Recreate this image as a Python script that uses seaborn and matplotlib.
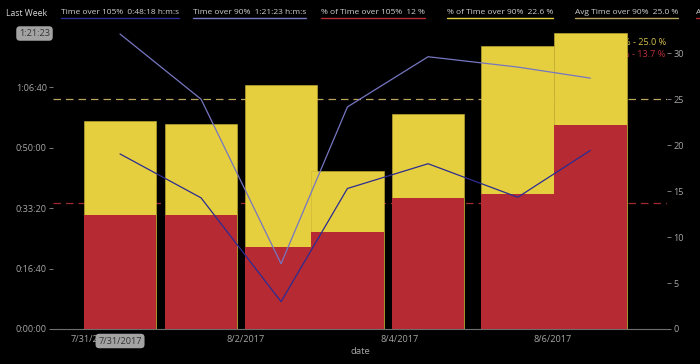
import matplotlib
matplotlib.use("Agg")
import matplotlib.pyplot as plt
import matplotlib.dates as mdates
from matplotlib.lines import Line2D
from matplotlib.ticker import FuncFormatter
import pandas as pd
import seaborn as sns

# ---------------- data ----------------
dates = ["2017-07-31 08:33", "2017-08-01 09:56", "2017-08-02 11:00", "2017-08-03 07:47",
         "2017-08-04 09:03", "2017-08-05 13:09", "2017-08-06 11:54"]
time_over_105 = [2898, 2171, 453, 2326, 2736, 2181, 2957]      # seconds
time_over_90 = [4883, 3804, 1080, 3676, 4507, 4336, 4153]      # seconds
pct_over_105 = [12.4, 12.4, 8.9, 10.5, 14.2, 14.7, 22.2]       # %
pct_over_90 = [22.6, 22.3, 26.5, 17.2, 23.4, 30.8, 32.2]       # %
avg_pct_over_90 = 25.0
avg_pct_over_105 = 13.7
x_tick_dates = ["2017-07-31", "2017-08-02", "2017-08-04", "2017-08-06"]
x_tick_labels = ["7/31/2017", "8/2/2017", "8/4/2017", "8/6/2017"]
left_ticks = [0, 1000, 2000, 3000, 4000]
right_ticks = [0, 5, 10, 15, 20, 25, 30]
legend_title = "Last Week"
legend_labels = ["Time over 105%  0:48:18 h:m:s", "Time over 90%  1:21:23 h:m:s",
                 "% of Time over 105%  12 %", "% of Time over 90%  22.6 %",
                 "Avg Time over 90%  25.0 %", "Avg Time over 105%  13.7 %"]
ref_labels = ["% - 25.0 %", "% - 13.7 %"]
hover_time = "1:21:23"
hover_date = "7/31/2017"

# ---------------- style ----------------
sns.set_style("dark", {"axes.facecolor": "black", "figure.facecolor": "black"})
plt.rcParams["font.family"] = ["Open Sans", "DejaVu Sans"]

YELLOW = "#E5CF3F"
RED = "#B52A33"
DARK = "#2C2C92"
LIGHT = "#7676C2"
TAN = "#B9A45C"
RED_D = "#A0292F"
GRAY = "#A6A6A6"

W, H = 700, 364
df = pd.DataFrame({"date": pd.to_datetime(dates),
                   "t105": time_over_105, "t90": time_over_90,
                   "p105": pct_over_105, "p90": pct_over_90})

fig = plt.figure(figsize=(W / 100, H / 100), dpi=100, facecolor="black")
ax = fig.add_axes([53 / W, 1 - 329 / H, 614 / W, 296 / H])
ax.set_facecolor("black")
ax2 = ax.twinx()
ax2.patch.set_visible(False)

# bars (percent, right scale)
ax.bar(df["date"], df["p90"], width=0.948, color=YELLOW, edgecolor="#C9B336",
       linewidth=0.4, zorder=2)
ax.bar(df["date"], df["p105"], width=0.948, color=RED, linewidth=0, zorder=3)
ax.axhline(avg_pct_over_90, color=TAN, lw=0.9, ls=(0, (6, 4)), zorder=1)
ax.axhline(avg_pct_over_105, color=RED_D, lw=0.9, ls=(0, (6, 4)), zorder=1)
ax.text(0.998, 0.967, ref_labels[0], transform=ax.transAxes, ha="right", va="center",
        color="#D6C24A", fontsize=6.6, zorder=1)
ax.text(0.998, 0.929, ref_labels[1], transform=ax.transAxes, ha="right", va="center",
        color="#B8303A", fontsize=6.6, zorder=1)
ax.set_ylim(0, 32.2)

# lines (time, left scale)
sns.lineplot(data=df, x="date", y="t90", ax=ax2, color=LIGHT, lw=0.9)
sns.lineplot(data=df, x="date", y="t105", ax=ax2, color=DARK, lw=0.9)
ax2.set_ylim(0, 4900)

# x axis
d0 = df["date"].iloc[0]
d1 = df["date"].iloc[-1]
ax.set_xlim(d0 - pd.Timedelta(days=0.875), d1 + pd.Timedelta(days=1.0))
ticks = list(pd.to_datetime(x_tick_dates)) + [d0]
ax.set_xticks([mdates.date2num(t) for t in ticks])
ax.set_xticklabels(x_tick_labels + [""])
ax2.set_xlabel("")
ax.set_xlabel("date", color=GRAY, fontsize=6.8, loc="center", labelpad=2)

# y axes: time on the left (ax2), percent on the right (ax)
ax.yaxis.tick_right()
ax2.yaxis.tick_left()
ax.set_yticks(right_ticks)
ax2.set_yticks(left_ticks)
ax2.yaxis.set_major_formatter(FuncFormatter(
    lambda v, p: f"{int(v // 3600)}:{int(v % 3600 // 60):02d}:{int(v % 60):02d}"))
ax.set_ylabel("")
ax2.set_ylabel("")
for a in (ax, ax2):
    a.grid(False)
    a.tick_params(axis="both", colors="#7A7A7A", labelcolor=GRAY, labelsize=6.6,
                  length=3, width=0.7, pad=1.5)
    for s in a.spines.values():
        s.set_visible(False)
ax.spines["bottom"].set_visible(True)
ax.spines["bottom"].set_color("#6E6E6E")
ax.spines["bottom"].set_linewidth(0.8)

# hover boxes
fig.text(34.5 / W, 1 - 33.5 / H, hover_time, ha="center", va="center", fontsize=6.6,
         color="#333333", bbox=dict(boxstyle="round,pad=0.3,rounding_size=0.4",
                                    fc="#A3A3A3", ec="none"), zorder=5)
xpix = ax.transData.transform((mdates.date2num(d0), 0))[0]
fig.text(xpix / W, 1 - 341 / H, hover_date, ha="center", va="center", fontsize=6.6,
         color="#333333", bbox=dict(boxstyle="round,pad=0.3,rounding_size=0.4",
                                    fc="#A3A3A3", ec="none"), zorder=5)

# legend row
fig.text(6 / W, 1 - 13 / H, legend_title, ha="left", va="center", fontsize=6.2,
         color="#D8D8D8")
leg_x = [61, 193, 321, 447, 575, 696]
leg_colors = [DARK, LIGHT, RED, YELLOW, TAN, RED]
renderer = fig.canvas.get_renderer()
for lx, lab, col in zip(leg_x, legend_labels, leg_colors):
    t = fig.text(lx / W, 1 - 13 / H, lab, ha="left", va="center", fontsize=6.0,
                 color="#D0D0D0")
    bb = t.get_window_extent(renderer=renderer)
    fig.add_artist(Line2D([bb.x0 / W, bb.x1 / W], [1 - 18 / H, 1 - 18 / H],
                          transform=fig.transFigure, color=col, lw=1.0))

fig.savefig("out.png", dpi=100, facecolor="black")
